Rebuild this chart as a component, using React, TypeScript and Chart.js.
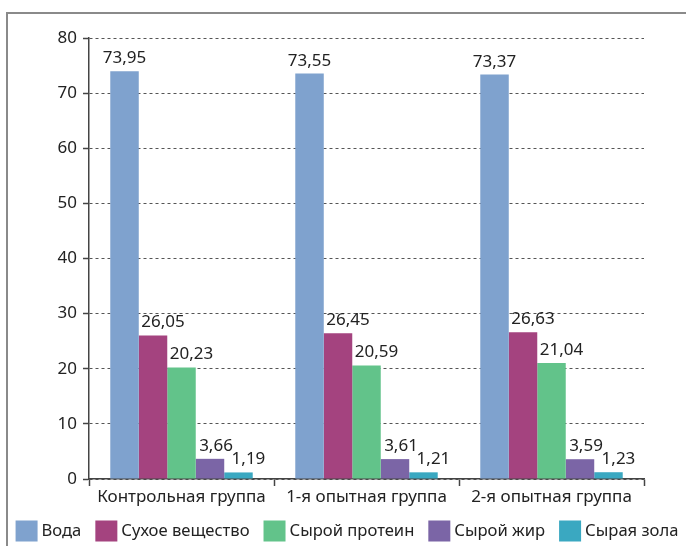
import React, { useEffect, useRef } from "react";
import { Chart, registerables } from "chart.js";
Chart.register(...registerables);

const categories = ["Контрольная группа", "1-я опытная группа", "2-я опытная группа"];
const seriesNames = ["Вода", "Сухое вещество", "Сырой протеин", "Сырой жир", "Сырая зола"];
const voda = [73.95, 73.55, 73.37];
const sukhoe = [26.05, 26.45, 26.63];
const protein = [20.23, 20.59, 21.04];
const zhir = [3.66, 3.61, 3.59];
const zola = [1.19, 1.21, 1.23];
const yMin = 0;
const yMax = 80;
const yStep = 10;
const seriesColors = ["#7FA2CE", "#A4437F", "#62C38A", "#7B65A6", "#3AA8C1"];
const labelOffsets = [0, 10, 10, 6, 10];

const FONT = "'Noto Sans', sans-serif";

const valueLabels = {
  id: "valueLabels",
  afterDatasetsDraw(chart: any) {
    const ctx = chart.ctx;
    ctx.save();
    ctx.font = `17px ${FONT}`;
    ctx.fillStyle = "#222";
    ctx.textAlign = "center";
    ctx.textBaseline = "alphabetic";
    chart.data.datasets.forEach((ds: any, di: number) => {
      const meta = chart.getDatasetMeta(di);
      meta.data.forEach((el: any, i: number) => {
        const v = ds.data[i] as number;
        ctx.fillText(v.toFixed(2).replace(".", ","), el.x + labelOffsets[di], el.y - 8);
      });
    });
    ctx.restore();
  },
};

const bottomLegend = {
  id: "bottomLegend",
  afterDraw(chart: any) {
    const ctx = chart.ctx;
    const box = 22;
    const boxH = 21;
    const gapText = 4;
    const gapItem = 14;
    ctx.save();
    ctx.font = `16.6px ${FONT}`;
    const items = chart.data.datasets.map((ds: any) => ({
      label: ds.label as string,
      color: ds.backgroundColor as string,
      w: ctx.measureText(ds.label).width,
    }));
    const total =
      items.reduce((s: number, it: any) => s + box + gapText + it.w, 0) + gapItem * (items.length - 1);
    let x = (chart.width - total) / 2 + 4;
    const cy = 531;
    ctx.textAlign = "left";
    ctx.textBaseline = "middle";
    items.forEach((it: any) => {
      ctx.fillStyle = it.color;
      ctx.fillRect(x, cy - boxH / 2, box, boxH);
      ctx.fillStyle = "#222";
      ctx.fillText(it.label, x + box + gapText, cy);
      x += box + gapText + it.w + gapItem;
    });
    ctx.restore();
  },
};

export default function App() {
  const ref = useRef<HTMLCanvasElement | null>(null);
  useEffect(() => {
    if (!ref.current) return;
    const all = [voda, sukhoe, protein, zhir, zola];
    const chart = new Chart(ref.current, {
      type: "bar",
      data: {
        labels: categories,
        datasets: all.map((d, i) => ({
          label: seriesNames[i],
          data: d,
          backgroundColor: seriesColors[i],
          borderWidth: 0,
          categoryPercentage: 0.77,
          barPercentage: 1,
        })),
      },
      options: {
        responsive: false,
        animation: false,
        layout: { padding: { top: 38, left: 0, right: 0, bottom: 40 } },
        plugins: {
          tooltip: { enabled: false },
          legend: { display: false },
        },
        scales: {
          x: {
            grid: { display: true, drawOnChartArea: false, tickLength: 7, tickColor: "#444", tickWidth: 1.5, offset: true },
            border: { color: "#444", width: 1.5 },
            ticks: { color: "#222", font: { size: 17, family: FONT }, padding: 1, maxRotation: 0 },
            afterFit: (s: any) => { s.height = 27; },
          },
          y: {
            min: yMin,
            max: yMax,
            ticks: { stepSize: yStep, color: "#222", font: { size: 17, family: FONT }, padding: 6 },
            grid: { color: "#555", lineWidth: 1, tickLength: 6, tickColor: "#444", tickWidth: 1.5 },
            border: { color: "#444", width: 1.5, dash: [3, 3] },
            afterFit: (s: any) => { s.width = 89; },
          },
          y2: {
            type: "linear",
            position: "right",
            display: true,
            grid: { display: false },
            ticks: { display: false },
            border: { display: false },
            afterFit: (s: any) => { s.width = 42; },
          },
        },
      },
      plugins: [valueLabels, bottomLegend],
    } as any);
    return () => chart.destroy();
  }, []);
  return (
    <div style={{ position: "fixed", left: 0, top: 0, width: 686, height: 546, overflow: "hidden", background: "#fff" }}>
      <div
        style={{
          position: "absolute",
          left: 6,
          top: 12,
          width: 690,
          height: 560,
          borderLeft: "2px solid #8a8a8a",
          borderTop: "2px solid #8a8a8a",
        }}
      />
      <canvas ref={ref} width={686} height={546} style={{ position: "absolute", left: 0, top: 0 }} />
    </div>
  );
}
